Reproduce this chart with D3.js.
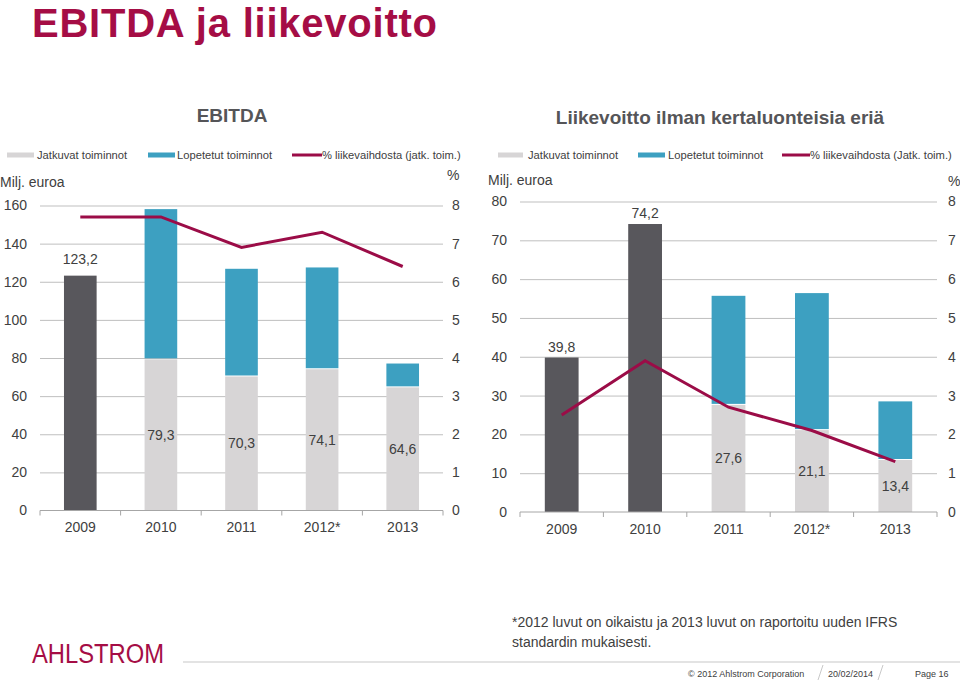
<!DOCTYPE html>
<html><head><meta charset="utf-8">
<script src="https://cdn.jsdelivr.net/npm/d3@7"></script>
<style>
body{margin:0;background:#fff;}
svg{display:block;font-family:"Liberation Sans",Arial,sans-serif;}
</style>
</head><body>
<svg id="c" width="960" height="681"></svg>
<script>
// ---- data ----
const years = ["2009","2010","2011","2012*","2013"];
const ebitdaReported     = [123.2, 0, 0, 0, 0];
const ebitdaContinuing   = [0, 79.3, 70.3, 74.1, 64.6];
const ebitdaDiscontinued = [0, 78.8, 56.5, 53.4, 12.5];
const ebitdaMargin       = [7.7, 7.7, 6.9, 7.3, 6.4];
const opReported     = [39.8, 74.2, 0, 0, 0];
const opContinuing   = [0, 0, 27.6, 21.1, 13.4];
const opDiscontinued = [0, 0, 28.1, 35.3, 15.1];
const opMargin       = [2.5, 3.9, 2.7, 2.1, 1.3];
const ebitdaTicks = [0,20,40,60,80,100,120,140,160];
const opTicks     = [0,10,20,30,40,50,60,70,80];
const pctTicks    = [0,1,2,3,4,5,6,7,8];
const seriesNames = ["Jatkuvat toiminnot","Lopetetut toiminnot"];

// ---- styles ----
const C = {dark:"#58575C", gray:"#D7D5D6", blue:"#3DA0C1", line:"#9B0C47",
           grid:"#BFBFBF", text:"#404040", title:"#A50D45", axis:"#A6A6A6"};
const fmt = v => d3.format(".1f")(v).replace(".", ",");

const svg = d3.select("#c");

// main title
svg.append("text").attr("x",32).attr("y",37).attr("fill",C.title)
  .attr("font-weight","bold").attr("font-size",40)
  .attr("textLength",405).text("EBITDA ja liikevoitto");

function chart(o){
  const x = d3.scaleBand().domain(years).range([o.x0,o.x1]);
  const y = d3.scaleLinear().domain([0,o.yMax]).range([o.yb,o.yt]);
  const y2 = d3.scaleLinear().domain([0,8]).range([o.yb,o.yt]);
  const bw = x.step()*0.405;
  const cx = d => x(d)+x.step()/2;
  const g = svg.append("g");

  // chart title
  g.append("text").attr("x",o.titleX).attr("y",o.titleY).attr("text-anchor","middle")
    .attr("font-size",19).attr("font-weight","bold").attr("fill","#555558").text(o.title);

  // legend
  const lg = g.append("g").attr("font-size",11.2).attr("fill",C.text);
  lg.append("rect").attr("x",o.leg[0]).attr("y",152.5).attr("width",o.leg[1]-o.leg[0]).attr("height",5).attr("fill",C.gray);
  lg.append("text").attr("x",o.leg[2]).attr("y",159).text(seriesNames[0]);
  lg.append("rect").attr("x",o.leg[3]).attr("y",152.5).attr("width",o.leg[4]-o.leg[3]).attr("height",5).attr("fill",C.blue);
  lg.append("text").attr("x",o.leg[5]).attr("y",159).text(seriesNames[1]);
  lg.append("line").attr("x1",o.leg[6]).attr("x2",o.leg[7]).attr("y1",155).attr("y2",155)
    .attr("stroke",C.line).attr("stroke-width",3);
  lg.append("text").attr("x",o.leg[7]).attr("y",159).text(o.lineName);

  // axis titles
  g.append("text").attr("x",o.miljX).attr("y",o.miljY).attr("font-size",14).attr("fill",C.text).text("Milj. euroa");
  g.append("text").attr("x",o.pctX).attr("y",o.pctY).attr("font-size",14).attr("fill",C.text).text("%");

  // left axis + grid
  const ga = g.append("g").attr("transform",`translate(${o.x0},0)`)
    .call(d3.axisLeft(y).tickValues(o.ticks).tickSize(-(o.x1-o.x0)).tickPadding(13));
  ga.select(".domain").remove();
  ga.selectAll(".tick line").attr("stroke",C.grid).filter(d=>d===0).remove();
  ga.selectAll("text").attr("fill",C.text).attr("font-size",14).attr("font-family","Liberation Sans, Arial, sans-serif");

  // right axis
  const gr = g.append("g").attr("transform",`translate(${o.x1},0)`)
    .call(d3.axisRight(y2).tickValues(pctTicks).tickSize(0).tickPadding(o.rPad));
  gr.select(".domain").remove();
  gr.selectAll("text").attr("fill",C.text).attr("font-size",14).attr("font-family","Liberation Sans, Arial, sans-serif");

  // bars
  years.forEach((yr,i)=>{
    const xl = cx(yr)-bw/2;
    if(o.rep[i]>0){
      g.append("rect").attr("x",xl).attr("width",bw).attr("y",y(o.rep[i])).attr("height",y(0)-y(o.rep[i])).attr("fill",C.dark);
    }
    if(o.cont[i]>0){
      const top = o.cont[i]+o.disc[i];
      g.append("rect").attr("x",xl).attr("width",bw).attr("y",y(top)).attr("height",y(o.cont[i])-y(top)-1).attr("fill",C.blue);
      g.append("rect").attr("x",xl).attr("width",bw).attr("y",y(o.cont[i])).attr("height",y(0)-y(o.cont[i])).attr("fill",C.gray);
    }
  });

  // x axis baseline and boundary ticks
  g.append("line").attr("x1",o.x0).attr("x2",o.x1).attr("y1",y(0)).attr("y2",y(0)).attr("stroke",C.axis).attr("stroke-width",1);
  d3.range(years.length+1).forEach(i=>{
    const xx = o.x0 + i*x.step();
    g.append("line").attr("x1",xx).attr("x2",xx).attr("y1",y(0)).attr("y2",y(0)+5).attr("stroke",C.axis);
  });
  const gx = g.append("g").attr("transform",`translate(0,${y(0)})`)
    .call(d3.axisBottom(x).tickSize(0).tickPadding(12));
  gx.select(".domain").remove();
  gx.selectAll("text").attr("fill",C.text).attr("font-size",14).attr("font-family","Liberation Sans, Arial, sans-serif");

  // line
  g.append("path").datum(o.margin)
    .attr("d", d3.line().x((d,i)=>cx(years[i])).y(d=>y2(d)))
    .attr("fill","none").attr("stroke",C.line).attr("stroke-width",3).attr("stroke-linejoin","miter");

  // data labels
  years.forEach((yr,i)=>{
    if(o.rep[i]>0){
      g.append("text").attr("x",cx(yr)).attr("y",y(o.rep[i])-o.repOff).attr("text-anchor","middle")
        .attr("font-size",14).attr("fill",C.text).text(fmt(o.rep[i]));
    }
    if(o.cont[i]>0){
      g.append("text").attr("x",cx(yr)).attr("y",(y(0)+y(o.cont[i]))/2+5).attr("text-anchor","middle")
        .attr("font-size",14).attr("fill",C.text).text(fmt(o.cont[i]));
    }
  });
}

chart({x0:40,x1:443,yb:510.5,yt:205.5,yMax:160,ticks:ebitdaTicks,rPad:9,
  rep:ebitdaReported,cont:ebitdaContinuing,disc:ebitdaDiscontinued,margin:ebitdaMargin,
  title:"EBITDA",titleX:232,titleY:122,
  leg:[7,34,37,148,175,177,292,322],lineName:"% liikevaihdosta (jatk. toim.)",
  miljX:0,miljY:187,pctX:447,pctY:180,repOff:12});

chart({x0:520,x1:937,yb:512,yt:201.5,yMax:80,ticks:opTicks,rPad:11,
  rep:opReported,cont:opContinuing,disc:opDiscontinued,margin:opMargin,
  title:"Liikevoitto ilman kertaluonteisia eriä",titleX:720,titleY:124,
  leg:[498,523,528,638,665,668,782,810],lineName:"% liikevaihdosta (Jatk. toim.)",
  miljX:488,miljY:185,pctX:948,pctY:186,repOff:6});

// footnote
svg.append("text").attr("x",512).attr("y",627).attr("font-size",14).attr("fill",C.text)
  .text("*2012 luvut on oikaistu ja 2013 luvut on raportoitu uuden IFRS");
svg.append("text").attr("x",512).attr("y",647).attr("font-size",14).attr("fill",C.text)
  .text("standardin mukaisesti.");

// footer
svg.append("line").attr("x1",183).attr("x2",960).attr("y1",662).attr("y2",662).attr("stroke","#DADADA").attr("stroke-width",1.5);
svg.append("text").attr("x",32).attr("y",663).attr("font-size",27).attr("fill",C.title)
  .attr("textLength",132).attr("lengthAdjust","spacingAndGlyphs").text("AHLSTROM");
const ft = svg.append("g").attr("font-size",9).attr("fill","#404040");
ft.append("text").attr("x",688).attr("y",677).text("© 2012 Ahlstrom Corporation");
ft.append("text").attr("x",828).attr("y",677).text("20/02/2014");
ft.append("text").attr("x",915).attr("y",677).text("Page 16");
[[818,823],[878,883]].forEach(s=>{
  svg.append("line").attr("x1",s[0]).attr("y1",680).attr("x2",s[1]).attr("y2",665).attr("stroke","#C8C8C8").attr("stroke-width",1);
});
</script>
</body></html>
